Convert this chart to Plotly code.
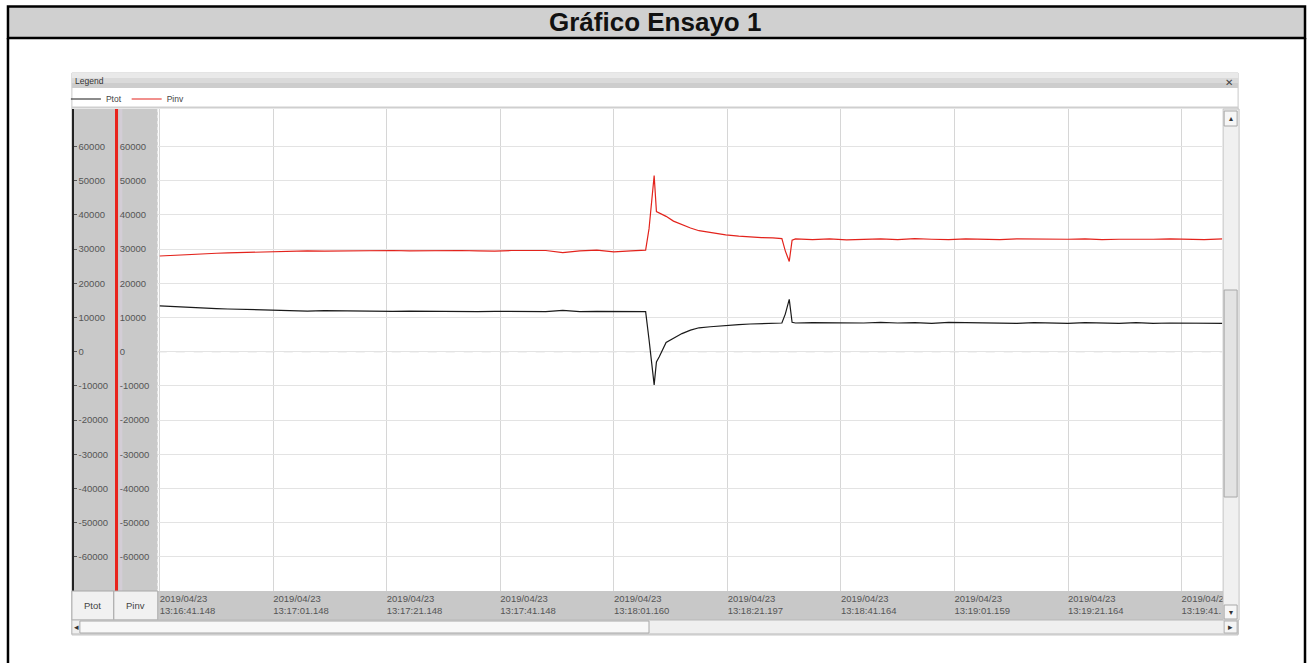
import pandas as pd
import plotly.graph_objects as go

# ---------------- data ----------------
start_time = "2019-04-23 13:16:41.148"
t_sec = [0, 2, 4, 6, 8, 10, 12, 14, 16, 18, 20, 23, 26, 29, 32, 35, 38, 41, 44, 47,
         50, 53, 56, 59, 62, 65, 68, 71, 74, 77, 80, 83, 85.6, 86.2, 86.6, 87.1, 87.5,
         88.0, 89.2, 90.5, 92.0, 93.5, 95.0, 97.0, 99.7, 102, 104, 106, 108, 109.6,
         110.2, 110.9, 111.4, 112, 115, 118, 121, 124, 127, 130, 133, 136, 139, 142,
         145, 148, 151, 154, 157, 160, 163, 166, 169, 172, 175, 178, 181, 184, 187.3]

ptot = [13400, 13200, 13100, 12900, 12800, 12600, 12500, 12400, 12300, 12200, 12100,
        12000, 11900, 12000, 11900, 11800, 11900, 11800, 11900, 11800, 11700, 11800,
        11700, 11800, 11700, 11800, 11700, 12100, 11700, 11800, 11700, 11800, 11700,
        3500, -3300, -9700, -3000, -1500, 2700, 3800, 5300, 6300, 7000, 7300, 7700,
        7900, 8100, 8200, 8300, 8400, 11000, 15300, 8600, 8400, 8500, 8400, 8500, 8400,
        8600, 8400, 8500, 8300, 8600, 8500, 8400, 8500, 8300, 8500, 8400, 8300, 8500,
        8400, 8300, 8500, 8300, 8400, 8300, 8200, 8300]

pinv = [28000, 28200, 28400, 28500, 28700, 28800, 28900, 29000, 29100, 29200, 29300,
        29400, 29500, 29400, 29500, 29600, 29500, 29600, 29500, 29600, 29500, 29600,
        29500, 29400, 29600, 29500, 29600, 29000, 29500, 29700, 29200, 29500, 29700,
        36000, 44000, 51500, 41000, 40600, 39600, 38200, 37100, 36200, 35400, 34800,
        34200, 33800, 33500, 33400, 33300, 33100, 29500, 26400, 32600, 33000, 32800,
        33000, 32700, 32900, 33000, 32800, 33100, 32900, 32800, 33000, 32900, 32800,
        33000, 32900, 32800, 32900, 33000, 32800, 32900, 32800, 32900, 33000, 32900,
        32800, 33000]

x_tick_times = ["2019-04-23 13:16:41.148", "2019-04-23 13:17:01.148",
                "2019-04-23 13:17:21.148", "2019-04-23 13:17:41.148",
                "2019-04-23 13:18:01.160", "2019-04-23 13:18:21.197",
                "2019-04-23 13:18:41.164", "2019-04-23 13:19:01.159",
                "2019-04-23 13:19:21.164", "2019-04-23 13:19:41.164"]
x_tick_labels = ["2019/04/23<br>13:16:41.148", "2019/04/23<br>13:17:01.148",
                 "2019/04/23<br>13:17:21.148", "2019/04/23<br>13:17:41.148",
                 "2019/04/23<br>13:18:01.160", "2019/04/23<br>13:18:21.197",
                 "2019/04/23<br>13:18:41.164", "2019/04/23<br>13:19:01.159",
                 "2019/04/23<br>13:19:21.164", "2019/04/2<br>13:19:41."]
y_tick_vals = [-60000, -50000, -40000, -30000, -20000, -10000, 0,
               10000, 20000, 30000, 40000, 50000, 60000]
y_tick_labels = [str(v) for v in y_tick_vals]
y_range = [-70000, 71000]
x_range_sec = [-0.35, 187.16]

# ---------------- figure ----------------
W, H = 1311, 663
def px(x):
    return x / W
def py(y):
    return 1 - y / H

base = pd.Timestamp(start_time)
times = base + pd.to_timedelta(t_sec, unit="s")
x_range = [base + pd.to_timedelta(x_range_sec[0], unit="s"),
           base + pd.to_timedelta(x_range_sec[1], unit="s")]

FONT = "Liberation Sans"
tick_font = dict(family=FONT, size=9.5, color="#555555")

fig = go.Figure()
fig.add_trace(go.Scatter(x=times, y=ptot, name="Ptot", mode="lines",
                         line=dict(color="#1a1a1a", width=1.2), yaxis="y"))
fig.add_trace(go.Scatter(x=times, y=pinv, name="Pinv", mode="lines",
                         line=dict(color="#e3231c", width=1.2), yaxis="y2"))

shapes = []
def rect(x0, y0, x1, y1, fill, line=None, lw=1, layer="above"):
    shapes.append(dict(type="rect", xref="paper", yref="paper",
                       x0=px(x0), x1=px(x1), y0=py(y0), y1=py(y1),
                       fillcolor=fill, layer=layer,
                       line=dict(color=line if line else "rgba(0,0,0,0)", width=lw if line else 0)))
def hline(x0, x1, y, color, lw=1, dash="solid", layer="above"):
    shapes.append(dict(type="line", xref="paper", yref="paper",
                       x0=px(x0), x1=px(x1), y0=py(y), y1=py(y), layer=layer,
                       line=dict(color=color, width=lw, dash=dash)))
def vline(x, y0, y1, color, lw=1, dash="solid", layer="above"):
    shapes.append(dict(type="line", xref="paper", yref="paper",
                       x0=px(x), x1=px(x), y0=py(y0), y1=py(y1), layer=layer,
                       line=dict(color=color, width=lw, dash=dash)))

# document frame + title bar
rect(8, 6.5, 1307, 38, "#d0d0d0", "black", 2.5, layer="below")
vline(8, 38, 663, "black", 2.5)
vline(1307, 38, 663, "black", 2.5)

# app window
rect(72, 73, 1240, 635, "white", "#c8c8c8", 1, layer="below")
# legend header (gradient-ish)
rect(72, 73, 1240, 78, "#e9e9e9", layer="below")
rect(72, 78, 1240, 83, "#dadada", layer="below")
rect(72, 83, 1240, 88, "#cdcdcd", layer="below")
hline(72, 1240, 107.5, "#cfcfcf", 2, layer="below")

# left axis band
rect(72, 109, 158, 591, "#c9c9c9", layer="below")
vline(121, 109, 591, "#d3cdd6", 3, layer="below")
vline(158, 109, 591, "#eeeeee", 1, dash="dot", layer="below")

# zero dashed line
shapes.append(dict(type="line", xref="x domain", yref="y", x0=0, x1=1, y0=0, y1=0,
                   layer="below", line=dict(color="#c2c2c2", width=1, dash="dash")))

# x-axis label band + buttons
rect(158, 591, 1225, 620, "#c8c8c8", layer="below")
rect(72, 591, 114, 620, "#f1f1f1", "#a8a8a8", 1)
rect(114, 591, 158, 620, "#f1f1f1", "#a8a8a8", 1)

# horizontal scrollbar
rect(72, 620, 1240, 634, "#efefef", "#b8b8b8", 1)
rect(80, 621, 650, 633, "#f8f8f8", "#a8a8a8", 1)
rect(1226, 621, 1239, 633, "#f4f4f4", "#b0b0b0", 1)

# vertical scrollbar
rect(1225, 109, 1241, 620, "#f0f0f0", "#c4c4c4", 1)
rect(1226, 111, 1239, 126, "#f6f6f6", "#a8a8a8", 1)
rect(1226, 290, 1239, 497, "#e3e3e3", "#a8a8a8", 1)
rect(1226, 605, 1239, 619, "#f6f6f6", "#a8a8a8", 1)

annotations = [
    dict(text="<b>Gráfico Ensayo 1</b>", x=px(656), y=py(22), xref="paper", yref="paper",
         showarrow=False, font=dict(family=FONT, size=26, color="#111111"),
         xanchor="center", yanchor="middle"),
    dict(text="Legend", x=px(73), y=py(81), xref="paper", yref="paper", showarrow=False,
         font=dict(family=FONT, size=8.5, color="#333333"), xanchor="left", yanchor="middle"),
    dict(text="✕", x=px(1231), y=py(82), xref="paper", yref="paper", showarrow=False,
         font=dict(family="DejaVu Sans", size=10, color="#444444"), xanchor="center", yanchor="middle"),
    dict(text="Ptot", x=px(93), y=py(605), xref="paper", yref="paper", showarrow=False,
         font=dict(family=FONT, size=9.5, color="#444444"), xanchor="center", yanchor="middle"),
    dict(text="Pinv", x=px(136), y=py(605), xref="paper", yref="paper", showarrow=False,
         font=dict(family=FONT, size=9.5, color="#444444"), xanchor="center", yanchor="middle"),
    dict(text="◂", x=px(76.5), y=py(627), xref="paper", yref="paper", showarrow=False,
         font=dict(family="DejaVu Sans", size=9, color="#333333"), xanchor="center", yanchor="middle"),
    dict(text="▸", x=px(1232.5), y=py(627), xref="paper", yref="paper", showarrow=False,
         font=dict(family="DejaVu Sans", size=9, color="#333333"), xanchor="center", yanchor="middle"),
    dict(text="▴", x=px(1232.5), y=py(118), xref="paper", yref="paper", showarrow=False,
         font=dict(family="DejaVu Sans", size=8, color="#333333"), xanchor="center", yanchor="middle"),
    dict(text="▾", x=px(1232.5), y=py(612), xref="paper", yref="paper", showarrow=False,
         font=dict(family="DejaVu Sans", size=8, color="#333333"), xanchor="center", yanchor="middle"),
]

fig.update_layout(
    width=W, height=H, autosize=False,
    margin=dict(l=0, r=0, t=0, b=0),
    paper_bgcolor="white", plot_bgcolor="white",
    showlegend=True,
    legend=dict(orientation="h", x=px(66), y=py(99), xanchor="left", yanchor="middle",
                font=dict(family=FONT, size=8.5, color="#444444"),
                bgcolor="rgba(0,0,0,0)", itemwidth=30, tracegroupgap=0),
    xaxis=dict(domain=[px(158), px(1224)], range=x_range, type="date",
               tickvals=x_tick_times, ticktext=x_tick_labels,
               ticklabelposition="outside right", ticks="", tickfont=tick_font,
               showgrid=True, gridcolor="#d6d6d6", gridwidth=1,
               showline=False, zeroline=False, anchor="y"),
    yaxis=dict(domain=[py(591), py(109)], range=y_range, anchor="free",
               position=px(73), side="right",
               tickvals=y_tick_vals, ticktext=y_tick_labels, tickfont=tick_font,
               ticks="outside", ticklen=3, tickcolor="#555555",
               showline=True, linecolor="#222222", linewidth=1.5,
               showgrid=True, gridcolor="#e3e3e3", zeroline=False),
    yaxis2=dict(range=y_range, overlaying="y", anchor="free",
                position=px(116), side="right",
                tickvals=y_tick_vals, ticktext=y_tick_labels, tickfont=tick_font,
                ticks="", showline=True, linecolor="#e8231c", linewidth=3,
                showgrid=False, zeroline=False),
    shapes=shapes,
    annotations=annotations,
)

# remove the default 8px page margin so the figure sits at the window origin
fig.write_html("out.html",
               config={"displayModeBar": False},
               post_script="document.body.style.margin='0';document.body.style.overflow='hidden';")
